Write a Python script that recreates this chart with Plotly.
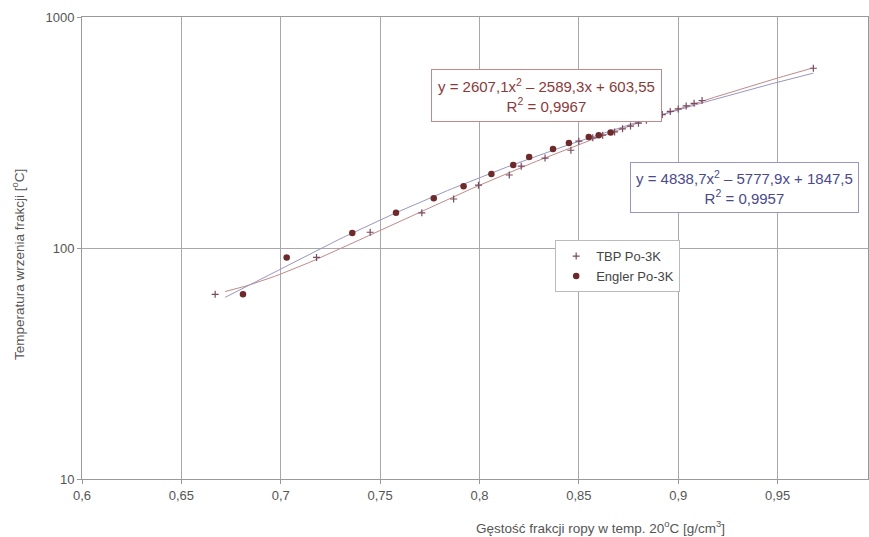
import numpy as np
import plotly.graph_objects as go

# ---- data ----
tbp_x = [0.667, 0.718, 0.745, 0.771, 0.787, 0.7995, 0.815, 0.821, 0.833, 0.846,
         0.850, 0.857, 0.862, 0.868, 0.872, 0.876, 0.880, 0.884, 0.888, 0.892,
         0.896, 0.900, 0.904, 0.908, 0.912, 0.968]
tbp_y = [63, 91, 117, 142, 163, 187, 207, 226, 245, 265,
         290, 300, 308, 318, 328, 337, 347, 357, 368, 378,
         390, 400, 412, 423, 435, 600]

engler_x = [0.681, 0.703, 0.736, 0.758, 0.777, 0.792, 0.806, 0.817, 0.825, 0.837,
            0.845, 0.855, 0.860, 0.866]
engler_y = [63, 91, 116, 142, 164, 185, 209, 229, 248, 268,
            285, 302, 308, 316]

x_ticks = [0.6, 0.65, 0.7, 0.75, 0.8, 0.85, 0.9, 0.95]
x_tick_labels = ["0,6", "0,65", "0,7", "0,75", "0,8", "0,85", "0,9", "0,95"]
y_ticks = [10, 100, 1000]
y_tick_labels = ["10", "100", "1000"]

eq_tbp = "y = 2607,1x<sup>2</sup> – 2589,3x + 603,55<br>R<sup>2</sup> = 0,9967"
eq_engler = "y = 4838,7x<sup>2</sup> – 5777,9x + 1847,5<br>R<sup>2</sup> = 0,9957"

# ---- trendlines (quadratic fits of the data) ----
line_x = np.linspace(0.672, 0.968, 120)
c_tbp = np.polyfit(tbp_x, tbp_y, 2)
c_eng = np.polyfit(engler_x, engler_y, 2)
line_tbp = np.polyval(c_tbp, line_x)
line_eng = np.polyval(c_eng, line_x)

FONT = "Liberation Sans, Arial, sans-serif"

fig = go.Figure()
fig.add_trace(go.Scatter(x=line_x, y=line_tbp, mode="lines",
                         line=dict(color="#c08a8a", width=1), showlegend=False,
                         hoverinfo="skip"))
fig.add_trace(go.Scatter(x=line_x, y=line_eng, mode="lines",
                         line=dict(color="#9a96c0", width=1), showlegend=False,
                         hoverinfo="skip"))
fig.add_trace(go.Scatter(x=tbp_x, y=tbp_y, mode="markers", name="TBP Po-3K",
                         marker=dict(symbol="cross-thin", size=5,
                                     line=dict(color="#7a4a60", width=1.2))))
fig.add_trace(go.Scatter(x=engler_x, y=engler_y, mode="markers", name="Engler Po-3K",
                         marker=dict(symbol="circle", size=6.5, color="#6e2a2a")))

fig.update_layout(
    width=869, height=537,
    margin=dict(l=82, r=1, t=17, b=58),
    paper_bgcolor="white", plot_bgcolor="white",
    font=dict(family=FONT, size=13, color="#444"),
    legend=dict(x=0.602, y=0.517, xanchor="left", yanchor="top",
                bgcolor="white", bordercolor="#bbb", borderwidth=1,
                font=dict(size=13, color="#444"),
                tracegroupgap=2),
    xaxis=dict(range=[0.6, 0.9955], tickvals=x_ticks, ticktext=x_tick_labels,
               showgrid=True, gridcolor="#a8a8a8", gridwidth=1,
               showline=True, linecolor="#999", linewidth=1, mirror=True,
               ticks="outside", ticklen=4, tickcolor="#999", zeroline=False,
               tickfont=dict(size=13, color="#555")),
    yaxis=dict(type="log", range=[1, 3], tickvals=y_ticks, ticktext=y_tick_labels,
               showgrid=True, gridcolor="#a8a8a8", gridwidth=1,
               showline=True, linecolor="#999", linewidth=1, mirror=True,
               ticks="outside", ticklen=4, tickcolor="#999", zeroline=False,
               tickfont=dict(size=13, color="#555")),
)

fig.add_annotation(xref="paper", yref="paper", x=(546 - 82) / 786, y=(479 - 69) / 462,
                   text=eq_tbp, showarrow=False, align="center",
                   font=dict(size=15, color="#8b3a3a", family=FONT),
                   bgcolor="white", bordercolor="#c08a8a", borderwidth=1, borderpad=6)
fig.add_annotation(xref="paper", yref="paper", x=(630 - 82) / 786, y=(479 - 162) / 462,
                   xanchor="left",
                   text=eq_engler, showarrow=False, align="center",
                   font=dict(size=15, color="#4a4a8a", family=FONT),
                   bgcolor="white", bordercolor="#9a96c0", borderwidth=1, borderpad=5)

fig.add_annotation(xref="paper", yref="paper", x=(600 - 82) / 786, y=(479 - 527) / 462,
                   yanchor="middle",
                   text="Gęstość frakcji ropy w temp. 20<sup>o</sup>C [g/cm<sup>3</sup>]",
                   showarrow=False, font=dict(size=13.5, color="#555", family=FONT))
fig.add_annotation(xref="paper", yref="paper", x=(18 - 82) / 786, y=(479 - 265) / 462,
                   xanchor="center", yanchor="middle",
                   text="Temperatura wrzenia frakcji [<sup>o</sup>C]",
                   textangle=-90, showarrow=False,
                   font=dict(size=13.5, color="#555", family=FONT))

fig.write_html("out.html", config={"displayModeBar": False},
               post_script="document.body.style.margin='0';")
